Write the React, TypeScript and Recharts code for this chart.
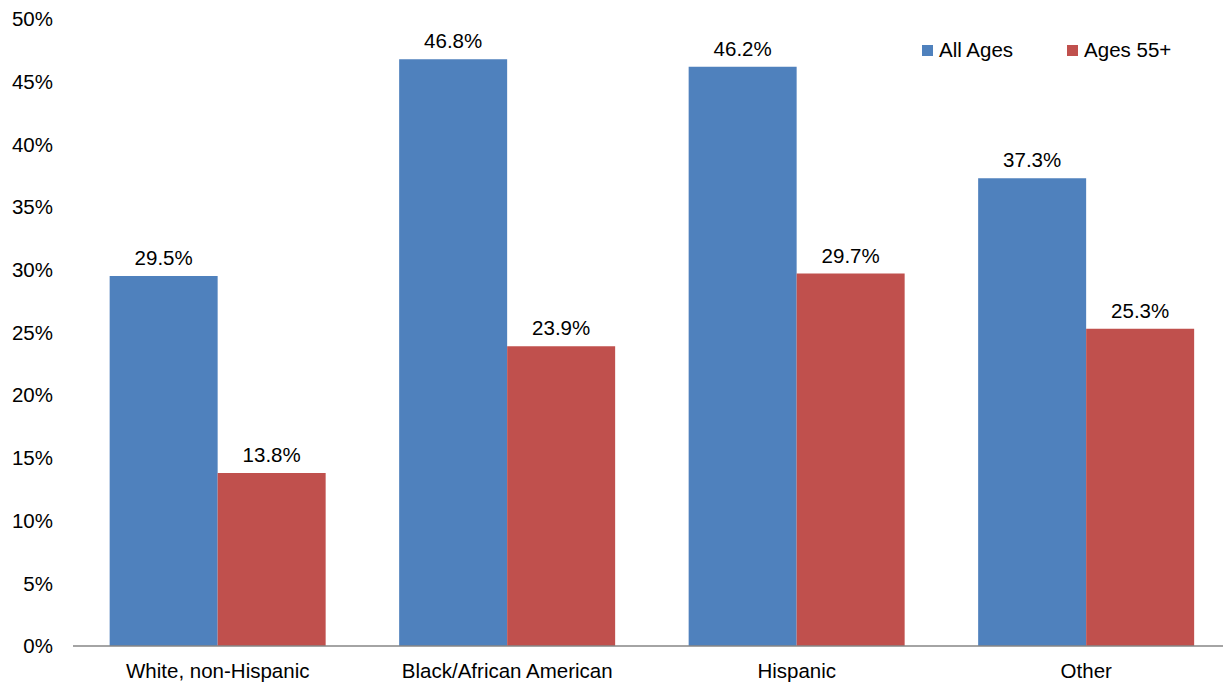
import { Bar, BarChart, LabelList, Legend, XAxis, YAxis } from "recharts";

const categories = ["White, non-Hispanic", "Black/African American", "Hispanic", "Other"];
const allAges = [29.5, 46.8, 46.2, 37.3];
const ages55 = [13.8, 23.9, 29.7, 25.3];
const yTicks = [0, 5, 10, 15, 20, 25, 30, 35, 40, 45, 50];

const data = categories.map((name, i) => ({ name, all: allAges[i], senior: ages55[i] }));

const FONT = "'Liberation Sans', Arial, sans-serif";
const FS = 20.5;
const BLUE = "#4F81BD";
const RED = "#C0504D";

function LegendBox() {
  const items = [
    { label: "All Ages", color: BLUE, gap: 54 },
    { label: "Ages 55+", color: RED, gap: 0 },
  ];
  return (
    <div style={{ display: "flex", alignItems: "center", fontFamily: FONT, fontSize: FS, color: "#000" }}>
      {items.map((it) => (
        <div key={it.label} style={{ display: "flex", alignItems: "center", marginRight: it.gap }}>
          <span style={{ width: 11, height: 11, background: it.color, marginRight: 6, display: "inline-block" }} />
          <span>{it.label}</span>
        </div>
      ))}
    </div>
  );
}

export default function App() {
  const pct = (v: number) => `${v.toFixed(1)}%`;
  return (
    <div style={{ position: "absolute", left: 0, top: 0, width: 1223, height: 682, overflow: "hidden", background: "#fff" }}>
      <BarChart
        width={1231}
        height={682}
        data={data}
        margin={{ top: 19, right: 0, left: 0, bottom: 0 }}
        barCategoryGap="12.66%"
        barGap={0}
      >
        <XAxis
          dataKey="name"
          height={36}
          axisLine={{ stroke: "#868686", strokeWidth: 1.5 }}
          tickLine={false}
          tickMargin={11}
          tick={{ fontSize: FS, fill: "#000", fontFamily: FONT }}
          interval={0}
        />
        <YAxis
          width={73}
          domain={[0, 50]}
          ticks={yTicks}
          axisLine={false}
          tickLine={false}
          tickSize={0}
          tickMargin={20}
          tickFormatter={(v: number) => `${v}%`}
          tick={{ fontSize: FS, fill: "#000", fontFamily: FONT }}
        />
        <Legend
          verticalAlign="middle"
          layout="horizontal"
          content={() => <LegendBox />}
          wrapperStyle={{ position: "absolute", top: 38, left: 922, width: 300 }}
        />
        <Bar dataKey="all" name="All Ages" fill={BLUE} isAnimationActive={false}>
          <LabelList dataKey="all" position="top" offset={11} formatter={pct} style={{ fontSize: FS, fill: "#000", fontFamily: FONT }} />
        </Bar>
        <Bar dataKey="senior" name="Ages 55+" fill={RED} isAnimationActive={false}>
          <LabelList dataKey="senior" position="top" offset={11} formatter={pct} style={{ fontSize: FS, fill: "#000", fontFamily: FONT }} />
        </Bar>
      </BarChart>
    </div>
  );
}
